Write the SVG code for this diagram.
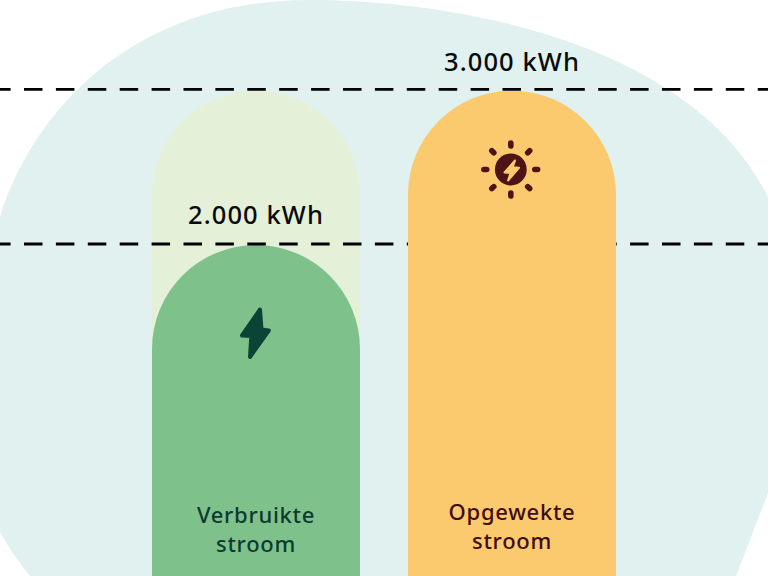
<svg xmlns="http://www.w3.org/2000/svg" width="768" height="576" viewBox="0 0 768 576">
<style>
text{font-family:"Noto Sans","Open Sans","DejaVu Sans",sans-serif;text-anchor:middle}
.v{font-size:25.5px;font-weight:500;fill:#0a0a0a;letter-spacing:1.1px}
.l{font-size:22px;font-weight:500;letter-spacing:.7px}
.d{stroke:#000;stroke-width:2.8;stroke-dasharray:18.5 13.4;stroke-dashoffset:7.9;fill:none}
.ray{fill:#4d1315}
</style>
<rect width="768" height="576" fill="#fff"/>
<path id="blob" d="M30 576C5 545 -40 480 -40 380C-40 320 -20 255 0 217C30 120 125 0 310 0C450 0 690 40 768 197C790 240 800 290 800 340C800 390 785 445 768 493L736 576Z" fill="#e0f1ef"/>
<g id="verbruikt">
<path d="M152 576V194.700A104 104 0 0 1 360 194.700V576Z" fill="#e5f0d9"/>
<path d="M152 576V349A104 104 0 0 1 360 349V576Z" fill="#7fc18a"/>
<path d="M260 309.500L242 335.500L251.300 336L250 357L268.800 330.500L261.500 329.500Z" fill="#0b4436" stroke="#0b4436" stroke-width="4" stroke-linejoin="round"/>
<text class="l" x="256" y="523" fill="#0b3b2f">Verbruikte</text>
<text class="l" x="256" y="552" fill="#0b3b2f">stroom</text>
</g>
<g id="connectors">
<line class="d" x1="0" y1="244" x2="768" y2="244"/>
</g>
<g id="opgewekt">
<path d="M408 576V194.700A104 104 0 0 1 616 194.700V576Z" fill="#fbc96e"/>
<circle class="ray" cx="510.800" cy="169.500" r="15.900"/>
<rect class="ray" x="-2.800" y="-4.200" width="5.600" height="8.400" rx="2.800" transform="translate(510.800 144.500)"/>
<rect class="ray" x="-2.800" y="-4.200" width="5.600" height="8.400" rx="2.800" transform="translate(510.800 194.500)"/>
<rect class="ray" x="-2.800" y="-4.200" width="5.600" height="8.400" rx="2.800" transform="translate(485.300 169.500) rotate(90)"/>
<rect class="ray" x="-2.800" y="-4.200" width="5.600" height="8.400" rx="2.800" transform="translate(536.200 169.500) rotate(90)"/>
<rect class="ray" x="-2.800" y="-4.200" width="5.600" height="8.400" rx="2.800" transform="translate(492.800 151.700) rotate(-45)"/>
<rect class="ray" x="-2.800" y="-4.200" width="5.600" height="8.400" rx="2.800" transform="translate(528.700 151.700) rotate(45)"/>
<rect class="ray" x="-2.800" y="-4.200" width="5.600" height="8.400" rx="2.800" transform="translate(492.800 187.600) rotate(45)"/>
<rect class="ray" x="-2.800" y="-4.200" width="5.600" height="8.400" rx="2.800" transform="translate(528.700 187.600) rotate(-45)"/>
<path d="M515 160.500L504.500 172.500L510.500 173L508 180.500L519 167.800L512.800 167.300Z" fill="#fbc96e" stroke="#fbc96e" stroke-width="2" stroke-linejoin="round"/>
<text class="l" x="512" y="520" fill="#3f0d10">Opgewekte</text>
<text class="l" x="512" y="549" fill="#3f0d10">stroom</text>
</g>
<g id="connectors-top">
<line class="d" x1="0" y1="89.300" x2="768" y2="89.300"/>
</g>
<text class="v" x="512" y="71">3.000 kWh</text>
<text class="v" x="256" y="224">2.000 kWh</text>
</svg>
